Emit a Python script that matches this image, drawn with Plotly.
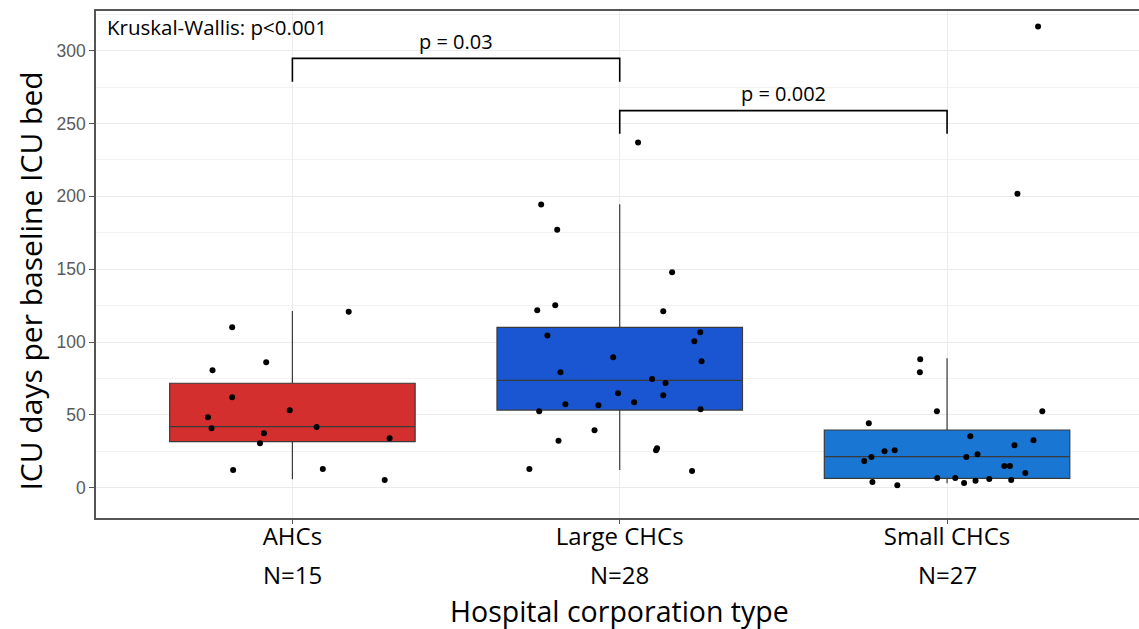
import plotly.graph_objects as go

# ---------------- data ----------------
categories = ["AHCs", "Large CHCs", "Small CHCs"]
n_counts = [15, 28, 27]
box_colors = ["#D32F2F", "#1A56D2", "#1976D2"]

# box statistics (q1, median, q3, lower whisker, upper whisker)
q1 = [31.6, 53.3, 6.4]
median = [41.9, 73.7, 21.3]
q3 = [71.7, 110.1, 39.6]
lower_whisker = [5.8, 12.2, 3.0]
upper_whisker = [121.3, 194.5, 88.8]

# individual hospital values and their horizontal jitter (category units)
ahc_values = [110.1, 120.8, 86.1, 80.6, 62.1, 53.1, 48.3, 40.8, 41.7, 37.3, 33.9, 30.5, 12.2, 12.8, 5.3]
ahc_jitter = [-0.184, 0.172, -0.080, -0.244, -0.184, -0.008, -0.258, -0.247, 0.074, -0.087, 0.297, -0.099, -0.181, 0.093, 0.282]

large_values = [236.9, 194.3, 177.1, 147.9, 121.8, 125.2, 121.1, 104.4, 106.7, 100.5, 86.8, 89.5, 79.2, 74.6,
                71.9, 64.8, 63.4, 58.6, 57.2, 56.6, 52.4, 53.8, 39.4, 32.3, 27.0, 25.7, 12.8, 11.5]
large_jitter = [0.056, -0.240, -0.191, 0.160, -0.252, -0.197, 0.133, -0.221, 0.246, 0.228, 0.250, -0.020, -0.181, 0.099,
                0.140, -0.005, 0.133, 0.044, -0.166, -0.065, -0.246, 0.247, -0.077, -0.187, 0.114, 0.111, -0.276, 0.221]

small_values = [316.5, 201.8, 88.1, 79.2, 52.4, 52.4, 44.2, 35.3, 32.5, 29.1, 25.0, 25.7, 21.1, 18.3,
                21.1, 22.9, 14.9, 14.9, 10.1, 6.7, 6.7, 6.0, 5.3, 4.8, 3.2, 3.9, 1.6]
small_jitter = [0.278, 0.215, -0.082, -0.083, -0.031, 0.291, -0.239, 0.071, 0.264, 0.206, -0.191, -0.160, -0.231, -0.253,
                0.059, 0.093, 0.175, 0.192, 0.239, -0.030, 0.025, 0.129, 0.196, 0.087, 0.052, -0.228, -0.152]

# pairwise comparisons: (group a, group b, bracket level, tick bottom, label)
comparisons = [
    (0, 1, 294.7, 278.7, "p = 0.03"),
    (1, 2, 258.8, 243.0, "p = 0.002"),
]
overall_test = "Kruskal-Wallis: p<0.001"

tick_values = [0, 50, 100, 150, 200, 250, 300]
x_title = "Hospital corporation type"
y_title = "ICU days per baseline ICU bed"

# ---------------- figure ----------------
FONT = "Open Sans"
fig = go.Figure()

for i, cat in enumerate(categories):
    fig.add_trace(go.Box(
        x=[i], q1=[q1[i]], median=[median[i]], q3=[q3[i]],
        lowerfence=[lower_whisker[i]], upperfence=[upper_whisker[i]],
        width=0.75, whiskerwidth=0, boxpoints=False,
        fillcolor=box_colors[i], line=dict(color="#3a3a3a", width=1.2),
        showlegend=False, hoverinfo="skip",
    ))

all_vals = [ahc_values, large_values, small_values]
all_jit = [ahc_jitter, large_jitter, small_jitter]
for i in range(len(categories)):
    fig.add_trace(go.Scatter(
        x=[i + j for j in all_jit[i]], y=all_vals[i], mode="markers",
        marker=dict(color="black", size=6), showlegend=False,
    ))

shapes = []
annotations = []
for a, b, level, bottom, label in comparisons:
    shapes.append(dict(type="path", xref="x", yref="y",
                       path=f"M {a},{bottom} L {a},{level} L {b},{level} L {b},{bottom}",
                       line=dict(color="black", width=1.6)))
    annotations.append(dict(x=(a + b) / 2, y=level + 11.5, xref="x", yref="y", text=label,
                            showarrow=False, font=dict(family=FONT, size=20, color="black"),
                            yanchor="middle"))
annotations.append(dict(x=-0.574, y=316.5, xref="x", yref="y", text=overall_test, showarrow=False,
                        xanchor="left", yanchor="middle", font=dict(family=FONT, size=20.5, color="black")))

# group sizes under the category labels
for i, n in enumerate(n_counts):
    annotations.append(dict(x=i, y=-0.112, xref="x", yref="paper", text=f"N={n}", showarrow=False,
                            xanchor="center", yanchor="middle",
                            font=dict(family=FONT, size=24, color="black")))

# axis titles
annotations.append(dict(x=1.0, y=-0.184, xref="x", yref="paper", text=x_title, showarrow=False,
                        xanchor="center", yanchor="middle", font=dict(family=FONT, size=28.5, color="black")))
annotations.append(dict(x=-0.0623, y=0.467, xref="paper", yref="paper", text=y_title, showarrow=False,
                        textangle=-90, xanchor="center", yanchor="middle",
                        font=dict(family=FONT, size=30, color="black")))

# the panel runs slightly past the right edge of the window, as in the original crop
fig.update_layout(
    width=1150, height=629,
    margin=dict(l=96, r=0, t=11, b=111),
    paper_bgcolor="white", plot_bgcolor="white",
    shapes=shapes, annotations=annotations,
    xaxis=dict(
        range=[-0.6, 2.620],
        tickvals=list(range(len(categories))),
        ticktext=categories,
        tickfont=dict(family=FONT, size=24, color="black"),
        ticklabelstandoff=-8,
        showgrid=True, gridcolor="#EBEBEB", gridwidth=1,
        showline=True, linecolor="#555555", linewidth=1.5, mirror=True,
        ticks="outside", ticklen=4, tickcolor="#555555",
        zeroline=False, automargin=False,
    ),
    yaxis=dict(
        range=[-20.8, 327.2],
        tickvals=tick_values,
        tickfont=dict(family="Liberation Sans", size=17.5, color="#5a5a5a"),
        showgrid=True, gridcolor="#EBEBEB", gridwidth=1,
        minor=dict(dtick=25, tick0=25, showgrid=True, gridcolor="#F2F2F2", gridwidth=1, ticks=""),
        showline=True, linecolor="#555555", linewidth=1.5, mirror=False,
        ticks="outside", ticklen=5, tickcolor="#555555",
        zeroline=False, automargin=False,
    ),
)

fig.write_html(
    "out.html",
    config={"displayModeBar": False},
    post_script="document.body.style.margin='0';document.body.style.padding='0';document.body.style.overflow='hidden';",
)
